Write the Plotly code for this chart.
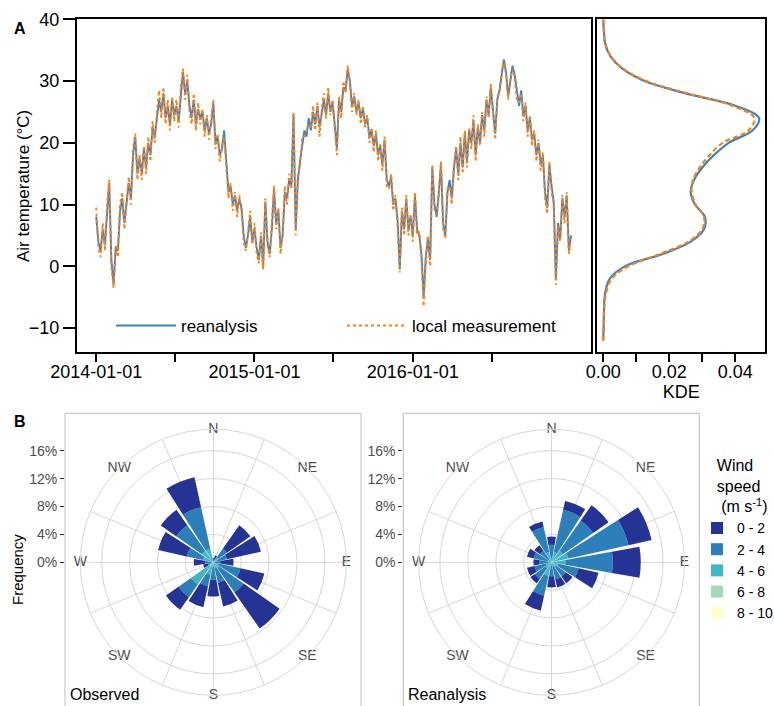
import plotly.graph_objects as go
import pandas as pd

# ---------------- data ----------------
start_date = "2014-01-01"
step_days = 5

reanalysis = [
    8, 4, 2.5, 6, 3.5, 9, 13.5, 1, -3, 3, 2.5, 9, 11, 7, 10, 13.5, 11, 18, 21, 15,
    17.5, 15, 19, 16, 20, 18, 22.5, 21, 24, 27, 25, 28, 24, 26, 23, 27, 24.5, 26, 23.5, 28,
    31.5, 28, 30, 26, 24, 27, 23, 25.5, 24, 25, 22, 24, 21.5, 23, 26.5, 20, 21, 18, 19, 22,
    16, 12, 13, 10, 11.5, 9, 11, 9.5, 5, 3, 5, 8, 4, 6, 3, 1, 5, 0, 10.5, 4,
    2, 6, 12.5, 7, 9, 3, 5, 12, 11, 14, 13, 24.5, 6, 14, 17, 20, 22, 21, 24, 22,
    25, 23, 26, 22.5, 25, 27, 24.5, 28, 25, 26.5, 23, 19, 27, 25, 29, 28.5, 32, 30, 26, 27.5,
    25, 26.5, 24, 25.5, 23, 24, 21, 22, 19.5, 21.5, 18, 19.5, 16.5, 20.5, 14, 13, 14.5, 10, 11, 7.5,
    -0.5, 9, 6, 11, 6, 8, 5, 11.5, 6, 5, 2, -5, 1.5, 4.5, 1, 16, 10, 8, 12, 16.5,
    7, 5, 12, 14, 11, 16, 19, 15, 20, 16, 21.5, 17, 22, 20, 23.5, 18, 22.5, 20, 24.5, 22,
    27, 24.5, 29, 25, 21.5, 27, 28.5, 31, 33.5, 31.5, 27.5, 30, 32.5, 31, 28, 26, 28.5, 24.5, 26, 22,
    24, 20.5, 21.5, 18, 20, 16.5, 18, 12, 9.5, 16.5, 13, 10.5, -2, 7, 4.5, 11, 8, 11.5, 2.5, 5,
]

local_measurement = [
    9.5, 3, 1.5, 7, 2.5, 10, 14, 0, -3.5, 3.5, 1.5, 10, 12, 6, 10.5, 14.5, 10, 19, 21.5, 14,
    18, 14, 19.5, 15, 21, 17, 23.5, 20, 25, 28.5, 24, 29, 23, 27, 22, 27.5, 23.5, 27, 22.5, 29,
    32, 27, 31, 25, 23, 28, 22, 26.5, 23, 25.5, 21, 24.5, 20.5, 23.5, 27, 19, 21.5, 17, 19.5, 21,
    15, 11, 13.5, 9, 12, 8, 11.5, 9, 4, 2.5, 5.5, 9, 3.5, 7, 2, 0.5, 5.5, -0.5, 11, 3.5,
    1.5, 7, 13, 6, 9.5, 2, 5.5, 13, 10, 15, 12.5, 25, 5, 15, 16, 21, 21, 22, 23, 22.5,
    26, 22, 26.5, 21, 25.5, 28, 24, 29, 24.5, 27, 22, 18, 27.5, 24, 30, 28, 32.5, 29.5, 25, 28,
    24.5, 27, 23, 26, 22.5, 24.5, 20, 22.5, 18.5, 22, 17, 20, 15.5, 21, 13, 12.5, 15, 9, 11.5, 6.5,
    -1, 9.5, 5, 11.5, 5, 8.5, 4, 12, 5, 5.5, 1, -6.5, 1, 5, 0, 16.5, 9, 8.5, 11, 17,
    6, 4.5, 12.5, 13, 10, 16.5, 19.5, 14, 21, 15, 22, 16, 22.5, 19, 24.5, 17, 23, 19.5, 25, 21,
    27.5, 24, 29.5, 24.5, 20.5, 27.5, 28, 31.5, 33.5, 31, 27, 30.5, 32, 30.5, 27, 26.5, 28, 23.5, 26.5, 21,
    24.5, 19.5, 22, 17, 20.5, 15.5, 18.5, 11, 8.5, 17, 12, 10, -3, 6.5, 4, 11.5, 7, 12, 2, 4.5,
]

kde_temperature = [-12, -10, -8, -6, -4, -2, 0, 2, 4, 6, 8, 10, 12, 14, 16, 18, 20,
                   22, 24, 26, 28, 30, 32, 34, 36, 38, 40]
kde_reanalysis = [0.0000, 0.0001, 0.0002, 0.0003, 0.0007, 0.0020, 0.0065, 0.0180, 0.0265,
                  0.0305, 0.0308, 0.0278, 0.0265, 0.0275, 0.0300, 0.0335, 0.0380, 0.0452,
                  0.0472, 0.0400, 0.0250, 0.0125, 0.0058, 0.0022, 0.0006, 0.0002, 0.0000]
kde_local = [0.0000, 0.0001, 0.0002, 0.0004, 0.0010, 0.0026, 0.0075, 0.0172, 0.0258,
             0.0300, 0.0305, 0.0280, 0.0268, 0.0272, 0.0292, 0.0322, 0.0362, 0.0440,
             0.0458, 0.0392, 0.0255, 0.0130, 0.0060, 0.0023, 0.0007, 0.0002, 0.0000]

directions = ["N", "NNE", "NE", "ENE", "E", "ESE", "SE", "SSE",
              "S", "SSW", "SW", "WSW", "W", "WNW", "NW", "NNW"]
speed_bins = ["0 - 2", "2 - 4", "4 - 6", "6 - 8", "8 - 10"]

obs_0_2 = [0.3, 0.5, 4.1, 5.0, 1.9, 3.5, 6.3, 3.5, 2.4, 3.1, 2.2, 0.7, 1.6, 4.2, 2.7, 4.4]
obs_2_4 = [0.2, 0.3, 1.6, 1.4, 0.7, 3.2, 4.3, 2.2, 1.9, 1.7, 2.2, 0.4, 0.9, 2.4, 4.5, 6.1]
obs_4_6 = [0.1, 0.2, 0.7, 0.5, 0.3, 0.7, 0.9, 0.7, 0.5, 1.5, 3.2, 0.3, 0.3, 1.3, 1.8, 1.8]
obs_6_8 = [0.0, 0.0, 0.1, 0.1, 0.0, 0.1, 0.1, 0.1, 0.1, 0.3, 0.6, 0.1, 0.0, 0.2, 0.2, 0.2]
obs_8_10 = [0.0, 0.0, 0.0, 0.0, 0.0, 0.0, 0.0, 0.0, 0.0, 0.0, 0.1, 0.0, 0.0, 0.0, 0.0, 0.0]

rea_0_2 = [1.2, 1.3, 2.7, 3.4, 4.0, 2.9, 1.2, 1.2, 1.6, 2.2, 0.8, 1.1, 0.8, 1.0, 1.0, 0.8]
rea_2_4 = [1.9, 6.2, 5.3, 8.8, 6.8, 3.0, 1.7, 1.9, 1.5, 2.9, 1.9, 1.7, 1.3, 2.0, 1.5, 3.7]
rea_4_6 = [0.5, 1.3, 1.7, 2.2, 1.7, 0.9, 0.7, 0.5, 0.4, 1.8, 0.9, 0.7, 0.4, 0.5, 0.4, 1.3]
rea_6_8 = [0.1, 0.2, 0.3, 0.3, 0.3, 0.1, 0.1, 0.1, 0.1, 0.2, 0.1, 0.1, 0.1, 0.1, 0.1, 0.2]
rea_8_10 = [0.0] * 16

compass_labels = ["N", "NE", "E", "SE", "S", "SW", "W", "NW"]
freq_ticks = [0, 4, 8, 12, 16]
year_ticks = ["2014-01-01", "2015-01-01", "2016-01-01"]
midyear_ticks = ["2014-07-01", "2015-07-01", "2016-07-01"]
kde_major_ticks = [0, 0.02, 0.04]
kde_minor_ticks = [0.01, 0.03]

# ---------------- styling ----------------
W, H = 774, 706
FONT = "Liberation Sans, Arial, sans-serif"
BLUE = "#3b82c4"
ORANGE = "#ff7f0e"
speed_colors = ["#253494", "#2c7fb8", "#41b6c4", "#a1dab4", "#ffffcc"]
GRID = "#d6d6d6"
R_OUTER = 19.07  # outer ring of the rose (ggplot's 0.45 radius)


def px_x(p):
    return p / W


def px_y(p):
    return 1 - p / H


dates = pd.date_range(start_date, periods=len(reanalysis), freq=f"{step_days}D")

fig = go.Figure()

fig.add_trace(go.Scatter(x=dates, y=reanalysis, mode="lines", name="reanalysis",
                         line=dict(color=BLUE, width=1.9), xaxis="x", yaxis="y",
                         legend="legend"))
fig.add_trace(go.Scatter(x=dates, y=local_measurement, mode="lines", name="local measurement",
                         line=dict(color=ORANGE, width=1.9, dash="dot"), xaxis="x", yaxis="y",
                         legend="legend"))

fig.add_trace(go.Scatter(x=kde_reanalysis, y=kde_temperature, mode="lines", line_shape="spline",
                         line=dict(color=BLUE, width=2.2), xaxis="x2", yaxis="y2",
                         showlegend=False))
fig.add_trace(go.Scatter(x=kde_local, y=kde_temperature, mode="lines", line_shape="spline",
                         line=dict(color=ORANGE, width=2.2, dash="5px,3px"), xaxis="x2", yaxis="y2",
                         showlegend=False))

theta = [i * 360 / len(directions) for i in range(len(directions))]
compass_theta = [i * 360 / len(compass_labels) for i in range(len(compass_labels))]

obs_bins = [obs_0_2, obs_2_4, obs_4_6, obs_6_8, obs_8_10]
rea_bins = [rea_0_2, rea_2_4, rea_4_6, rea_6_8, rea_8_10]

for polar_id, bins, show in (("polar", obs_bins, True), ("polar2", rea_bins, False)):
    for k in reversed(range(len(speed_bins))):
        fig.add_trace(go.Barpolar(r=bins[k], theta=theta, width=20, name=speed_bins[k],
                                  marker=dict(color=speed_colors[k], line=dict(width=0)),
                                  subplot=polar_id, showlegend=show, legend="legend2",
                                  legendgroup=speed_bins[k], hoverinfo="skip"))
    fig.add_trace(go.Scatterpolar(r=[R_OUTER] * len(compass_labels), theta=compass_theta,
                                  text=compass_labels, mode="text", cliponaxis=False,
                                  textfont=dict(size=14, color="#4d4d4d", family=FONT),
                                  subplot=polar_id, showlegend=False, hoverinfo="skip"))

# dummy traces for the frequency axes
for xa, ya in (("x3", "y3"), ("x4", "y4")):
    fig.add_trace(go.Scatter(x=[0], y=[0], mode="markers", marker=dict(opacity=0),
                             xaxis=xa, yaxis=ya, showlegend=False, hoverinfo="skip"))

spoke_angles = [0, 22.5, 67.5, 90, 112.5, 157.5, 180, 202.5, 247.5, 270, 292.5, 337.5]
ROSE_CY = 562.3
ROSE_R = 133


def polar_layout(cx):
    return dict(
        domain=dict(x=[px_x(cx - ROSE_R), px_x(cx + ROSE_R)],
                    y=[px_y(ROSE_CY + ROSE_R), px_y(ROSE_CY - ROSE_R)]),
        bgcolor="white",
        barmode="stack",
        radialaxis=dict(range=[0, R_OUTER], tickvals=[4, 8, 12, 16], showticklabels=False,
                        ticks="", showline=False, gridcolor=GRID, gridwidth=1),
        angularaxis=dict(direction="clockwise", rotation=90, thetaunit="degrees",
                         tickmode="array", tickvals=spoke_angles, showticklabels=False,
                         ticks="", showgrid=True, gridcolor=GRID, gridwidth=1,
                         linecolor=GRID, linewidth=1),
    )


y_dom = [px_y(352), px_y(19.3)]
rose_ydom = [px_y(ROSE_CY + ROSE_R), px_y(ROSE_CY - ROSE_R)]

freq_axis = dict(domain=rose_ydom, range=[-R_OUTER, R_OUTER],
                 tickvals=freq_ticks, ticktext=[f"{v}%" for v in freq_ticks],
                 ticks="outside", ticklen=4, tickcolor="#333333", showline=False,
                 showgrid=False, zeroline=False, automargin=False,
                 tickfont=dict(size=14, color="#4d4d4d"))

NB = "&nbsp;"

fig.update_layout(
    width=W, height=H,
    margin=dict(l=0, r=0, t=0, b=0, autoexpand=False),
    paper_bgcolor="white", plot_bgcolor="rgba(0,0,0,0)",
    font=dict(family=FONT, color="black"),
    xaxis=dict(domain=[px_x(76.7), px_x(591)], anchor="y", automargin=False,
               range=["2013-11-17", "2017-02-15"],
               tickmode="array", tickvals=year_ticks, ticktext=year_ticks,
               ticks="outside", ticklen=8, tickwidth=1.5, tickcolor="black",
               minor=dict(tickmode="array", tickvals=midyear_ticks, ticks="outside",
                          ticklen=8, tickwidth=1.5, tickcolor="black", showgrid=False),
               ticklabelstandoff=-5,
               showline=True, linecolor="black", linewidth=1.5, mirror=True,
               showgrid=False, zeroline=False, tickfont=dict(size=18)),
    yaxis=dict(domain=y_dom, anchor="x", range=[-13.87, 40], automargin=False,
               tickvals=[-10, 0, 10, 20, 30, 40],
               ticks="outside", ticklen=12, tickwidth=1.5, tickcolor="black",
               showline=True, linecolor="black", linewidth=1.5, mirror=True,
               showgrid=False, zeroline=False, tickfont=dict(size=18)),
    xaxis2=dict(domain=[px_x(597.3), px_x(765)], anchor="y2", range=[-0.0018, 0.049],
                automargin=False,
                tickmode="array", tickvals=kde_major_ticks,
                ticktext=[f"{v:.2f}" for v in kde_major_ticks],
                ticks="outside", ticklen=8, tickwidth=1.5, tickcolor="black",
                minor=dict(tickmode="array", tickvals=kde_minor_ticks, ticks="outside",
                           ticklen=8, tickwidth=1.5, tickcolor="black", showgrid=False),
                ticklabelstandoff=-5,
                showline=True, linecolor="black", linewidth=1.5, mirror=True,
                showgrid=False, zeroline=False, tickfont=dict(size=18),
                title=dict(text="KDE", font=dict(size=18), standoff=0)),
    yaxis2=dict(domain=y_dom, anchor="x2", matches="y", showticklabels=False, ticks="",
                automargin=False,
                showline=True, linecolor="black", linewidth=1.5, mirror=True,
                showgrid=False, zeroline=False),
    xaxis3=dict(domain=[px_x(65), px_x(361)], anchor="y3", visible=False, range=[-1, 1],
                automargin=False),
    yaxis3=dict(anchor="x3", **freq_axis),
    xaxis4=dict(domain=[px_x(403.3), px_x(699.3)], anchor="y4", visible=False, range=[-1, 1],
                automargin=False),
    yaxis4=dict(anchor="x4", **freq_axis),
    polar=polar_layout(213.3),
    polar2=polar_layout(551.5),
    legend=dict(orientation="h", x=px_x(111), y=px_y(326), xanchor="left", yanchor="middle",
                bgcolor="rgba(0,0,0,0)", font=dict(size=17), entrywidth=156,
                entrywidthmode="pixels", itemwidth=60),
    legend2=dict(x=px_x(697), y=px_y(450), xanchor="left", yanchor="top",
                 traceorder="reversed", bgcolor="rgba(0,0,0,0)", font=dict(size=14),
                 title=dict(text=f"{NB * 4}Wind<br>{NB * 4}speed<br>{NB * 5}(m s<sup>-1</sup>)",
                            font=dict(size=16)),
                 tracegroupgap=0),
    shapes=[
        dict(type="rect", xref="paper", yref="paper", x0=px_x(65), x1=px_x(361),
             y0=px_y(709), y1=px_y(413.3), line=dict(color="#bdbdbd", width=1)),
        dict(type="rect", xref="paper", yref="paper", x0=px_x(403.3), x1=px_x(699.3),
             y0=px_y(709), y1=px_y(413.3), line=dict(color="#bdbdbd", width=1)),
    ],
    annotations=[
        dict(text="Air temperature (°C)", x=px_x(23), y=px_y(186), xref="paper", yref="paper",
             xanchor="center", yanchor="middle", textangle=-90, showarrow=False,
             font=dict(size=17)),
        dict(text="Frequency", x=px_x(17), y=px_y(570), xref="paper", yref="paper",
             xanchor="center", yanchor="middle", textangle=-90, showarrow=False,
             font=dict(size=15)),
        dict(text="<b>A</b>", x=px_x(12), y=px_y(28), xref="paper", yref="paper",
             xanchor="left", yanchor="middle", showarrow=False, font=dict(size=16)),
        dict(text="<b>B</b>", x=px_x(12), y=px_y(421), xref="paper", yref="paper",
             xanchor="left", yanchor="middle", showarrow=False, font=dict(size=16)),
        dict(text="Observed", x=px_x(68), y=px_y(694), xref="paper", yref="paper",
             xanchor="left", yanchor="middle", showarrow=False, font=dict(size=16)),
        dict(text="Reanalysis", x=px_x(406), y=px_y(694), xref="paper", yref="paper",
             xanchor="left", yanchor="middle", showarrow=False, font=dict(size=16)),
    ],
)

fig.write_html(
    "out.html",
    config={"displayModeBar": False},
    post_script="document.body.style.margin='0px';document.body.style.padding='0px';"
                "document.body.style.overflow='hidden';",
)
